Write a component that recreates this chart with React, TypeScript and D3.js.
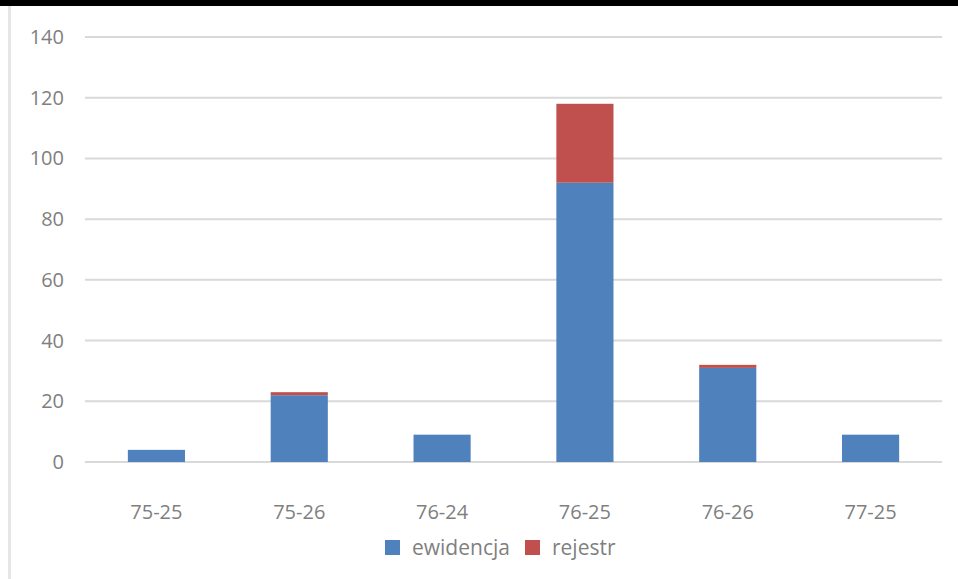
import React from "react";
import * as d3 from "d3";

const categories = ["75-25", "75-26", "76-24", "76-25", "76-26", "77-25"];
const ewidencja = [4, 22, 9, 92, 31, 9];
const rejestr = [0, 1, 0, 26, 1, 0];
const yTicks = [0, 20, 40, 60, 80, 100, 120, 140];
const seriesNames = ["ewidencja", "rejestr"];
const seriesColors = ["#4f81bd", "#c0504d"];

const W = 958;
const H = 579;
const plotLeft = 85;
const plotRight = 942;
const plotTop = 37;
const plotBottom = 462;
const font = "'Open Sans', 'Noto Sans', sans-serif";
const textColor = "#7f7f7f";

export default function App() {
  const x = d3.scaleBand<string>().domain(categories).range([plotLeft, plotRight]).paddingInner(0.6).paddingOuter(0.3);
  const y = d3.scaleLinear().domain([0, 140]).range([plotBottom, plotTop]);

  const rows = categories.map((c, i) => ({ cat: c, ewidencja: ewidencja[i], rejestr: rejestr[i] }));
  const stack = d3.stack<any>().keys(seriesNames)(rows);

  const legendItems = [
    { name: seriesNames[0], color: seriesColors[0], x: 385 },
    { name: seriesNames[1], color: seriesColors[1], x: 525 },
  ];

  return (
    <div style={{ position: "absolute", left: 0, top: 0 }}>
      <svg width={W} height={H} style={{ display: "block", background: "#fff" }}>
        <rect x={0} y={0} width={W} height={6} fill="#000" />
        <rect x={8} y={6} width={3} height={H - 6} fill="#e6e6e6" />
        {yTicks.map((t) => (
          <g key={t}>
            <line x1={plotLeft} x2={plotRight} y1={y(t)} y2={y(t)} stroke="#d9d9d9" strokeWidth={2} />
            <text x={64} y={y(t)} dy="0.35em" textAnchor="end" fontFamily={font} fontSize={20} fill={textColor}>
              {t}
            </text>
          </g>
        ))}
        {stack.map((layer, si) => (
          <g key={si} fill={seriesColors[si]}>
            {layer.map((d, i) => {
              const h = y(d[0]) - y(d[1]);
              if (h <= 0) return null;
              return (
                <rect key={i} x={x(categories[i])} y={y(d[1])} width={x.bandwidth()} height={h} />
              );
            })}
          </g>
        ))}
        {categories.map((c) => (
          <text key={c} x={(x(c) as number) + x.bandwidth() / 2} y={519} textAnchor="middle" fontFamily={font} fontSize={20} fill={textColor}>
            {c}
          </text>
        ))}
        {legendItems.map((l) => (
          <g key={l.name}>
            <rect x={l.x} y={540} width={15} height={15} fill={l.color} />
            <text x={l.x + 27} y={555} fontFamily={font} fontSize={21} fill={textColor}>
              {l.name}
            </text>
          </g>
        ))}
      </svg>
    </div>
  );
}
